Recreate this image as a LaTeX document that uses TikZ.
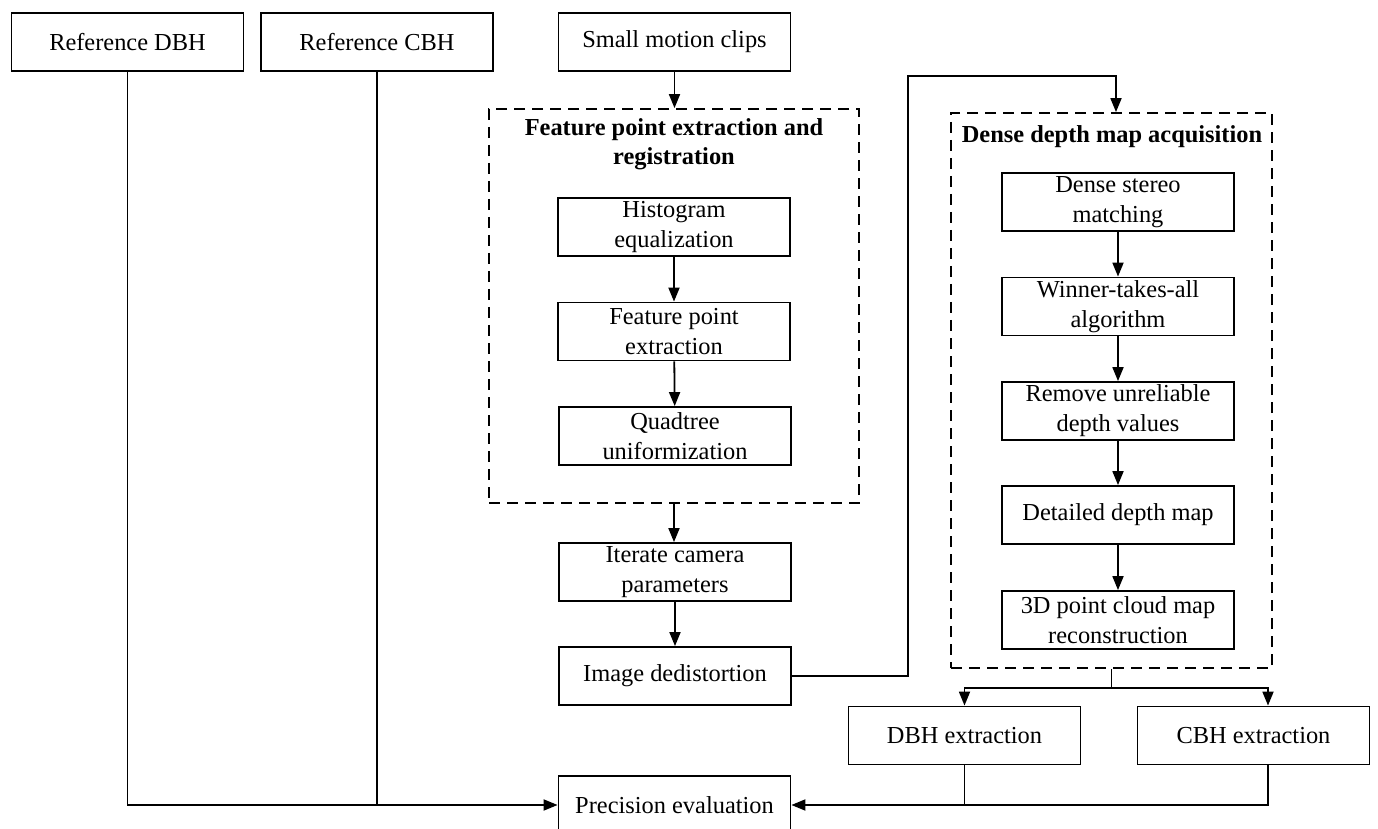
\documentclass[tikz,border=0pt]{standalone}
\usepackage{fontspec}
\setmainfont{Liberation Serif}
\usetikzlibrary{arrows.meta}

\begin{document}
\begin{tikzpicture}[x=0.5pt,y=-0.5pt,
    font=\fontsize{12.2}{15}\selectfont,
    box/.style={draw,line width=0.9pt,minimum width=116pt,minimum height=29pt,align=center,inner sep=1pt},
    group/.style={draw,line width=0.9pt,dash pattern=on 5.5pt off 3.5pt,inner sep=0pt},
    flow/.style={line width=0.9pt,-{Triangle[length=7pt,width=5.5pt]}},
    link/.style={line width=0.9pt}]
    \useasboundingbox (0,0) rectangle (1378,829);

    % inputs
    \node[box] (refdbh) at (127.5,42) {Reference DBH};
    \node[box] (refcbh) at (377,42) {Reference CBH};
    \node[box] (clips) at (674.5,42) {Small motion clips};

    % feature points
    \node[group,minimum width=185pt,minimum height=197pt] (fpegroup) at (674,306) {};
    \node[align=center,font=\fontsize{12.2}{14.5}\selectfont\bfseries] (fpetitle) at (674,144.5) {Feature point extraction and\\registration};
    \node[box] (hist) at (674,227) {Histogram\\equalization};
    \node[box] (fpext) at (674,331.5) {Feature point\\extraction};
    \node[box] (quad) at (675,436) {Quadtree\\uniformization};

    \node[box] (iter) at (675,572) {Iterate camera\\parameters};
    \node[box] (dedist) at (675,676) {Image dedistortion};

    % dense depth
    \node[group,minimum width=160.5pt,minimum height=277.5pt] (densegroup) at (1111.5,390.5) {};
    \node[font=\fontsize{12.2}{15}\selectfont\bfseries] (densetitle) at (1112,137) {Dense depth map acquisition};
    \node[box] (stereo) at (1118,202) {Dense stereo\\matching};
    \node[box] (winner) at (1118,306.5) {Winner-takes-all\\algorithm};
    \node[box] (remove) at (1118,411) {Remove unreliable\\depth values};
    \node[box] (detailed) at (1118,515) {Detailed depth map};
    \node[box] (pcmap) at (1118,620) {3D point cloud map\\reconstruction};

    % outputs
    \node[box] (dbhext) at (964.5,735.5) {DBH extraction};
    \node[box] (cbhext) at (1253.5,735.5) {CBH extraction};
    \node[box] (prec) at (674.5,805) {Precision evaluation};

    \coordinate (bend) at (908,76);
    \coordinate (split) at (1111.5,688);

    \draw[flow] (clips.south) -- (clips.south |- fpegroup.north);
    \draw[flow] (hist) -- (fpext);
    \draw[flow] (fpext) -- (quad);
    \draw[flow] (fpegroup.south) -- (fpegroup.south |- iter.north);
    \draw[flow] (iter) -- (dedist);
    \draw[flow] (dedist.east) -| (bend) -| ([xshift=2.25pt]densegroup.north);

    \draw[flow] (stereo) -- (winner);
    \draw[flow] (winner) -- (remove);
    \draw[flow] (remove) -- (detailed);
    \draw[flow] (detailed) -- (pcmap);

    \draw[link] (densegroup.south) -- (split);
    \draw[flow] (split) -| (dbhext.north);
    \draw[flow] (split) -| ([xshift=7.25pt]cbhext.north);

    \draw[flow] (dbhext.south) |- (prec.east);
    \draw[link] ([xshift=7.25pt]cbhext.south) |- (dbhext.south |- prec.east);
    \draw[flow] (refdbh.south) |- (prec.west);
    \draw[link] (refcbh.south) -- (refcbh.south |- prec.west);
\end{tikzpicture}
\end{document}
